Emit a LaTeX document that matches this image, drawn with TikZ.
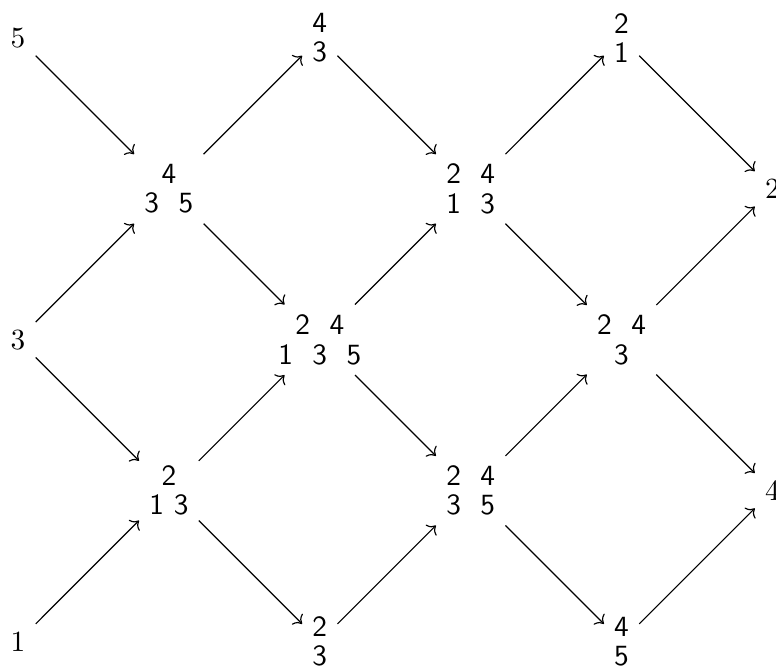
\documentclass[tikz,border=0pt]{standalone}
\usetikzlibrary{arrows.meta, positioning}

\begin{document}
\begin{tikzpicture}[
        node distance = 51.5pt and 51.5pt, on grid,
        >= {To},
        outer/.style = {},
        pattern/.style = {align = center, font = \sffamily\fontsize{10}{10}\selectfont}
    ]
        \useasboundingbox (0,0) rectangle (264.85pt,-227.65pt);

        \node[outer] (five) at (6.14pt,-12.97pt) {$5$};
        \node[pattern] (p435) [below right = of five] {4\\3~~5};
        \node[outer] (three) [below left = of p435] {$3$};
        \node[pattern] (p213) [below right = of three] {2\\1 3};
        \node[outer] (one) [below left = of p213] {$1$};
      \node[pattern] (p43) [above right = of p435] {4\\3};
      \node[pattern] (p24135) [below right = of p435] {2~~4\\1~~3~~5};
      \node[pattern] (p23) [below right = of p213] {2\\3};
      \node[pattern] (p2413) [below right = of p43] {2~~4\\1~~3};
      \node[pattern] (p2435) [below right = of p24135] {2~~4\\3~~5};
      \node[pattern] (p21) [above right = of p2413] {2\\1};
      \node[pattern] (p243) [below right = of p2413] {2~~4\\3};
      \node[pattern] (p45) [below right = of p2435] {4\\5};
        \node[outer] (two) [below right = of p21] {$2$};
        \node[outer] (four) [below right = of p243] {$4$};

      \path[->]
        (five) edge (p435)
        (three) edge (p435)
        (three) edge (p213)
        (one) edge (p213)
        (p435) edge (p43)
        (p435) edge (p24135)
        (p213) edge (p24135)
        (p213) edge (p23)
        (p43) edge (p2413)
        (p24135) edge (p2413)
        (p24135) edge (p2435)
        (p23) edge (p2435)
        (p2413) edge (p21)
        (p2413) edge (p243)
        (p2435) edge (p243)
        (p2435) edge (p45)
        (p21) edge (two)
        (p243) edge (two)
        (p243) edge (four)
        (p45) edge (four);
    \end{tikzpicture}
\end{document}
